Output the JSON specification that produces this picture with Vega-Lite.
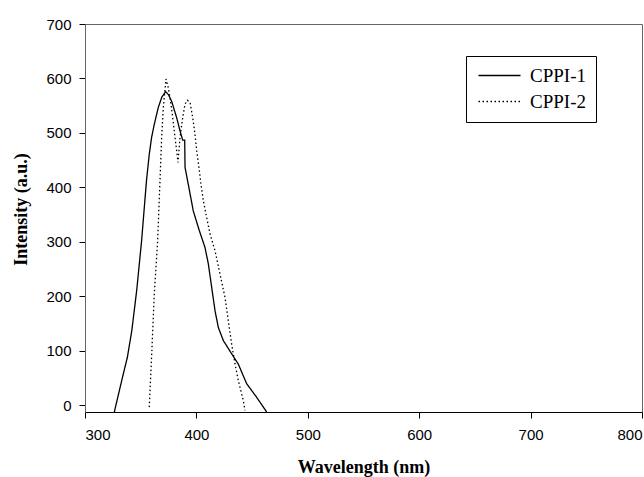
{
  "$schema": "https://vega.github.io/schema/vega-lite/v6.json",
  "width": 557,
  "height": 388,
  "autosize": {"type": "none"},
  "padding": {"left": 85, "top": 24, "right": 2, "bottom": 65},
  "background": "white",
  "config": {"view": {"stroke": "#666", "strokeWidth": 1}, "axis": {"grid": false}},
  "data": {"values": [
    {"s": "CPPI-1", "w": 326.3, "i": -12},
    {"s": "CPPI-1", "w": 333, "i": 46},
    {"s": "CPPI-1", "w": 334.4, "i": 58},
    {"s": "CPPI-1", "w": 338, "i": 88},
    {"s": "CPPI-1", "w": 342, "i": 137},
    {"s": "CPPI-1", "w": 346.4, "i": 211},
    {"s": "CPPI-1", "w": 350.8, "i": 302},
    {"s": "CPPI-1", "w": 355.3, "i": 415},
    {"s": "CPPI-1", "w": 357.7, "i": 461},
    {"s": "CPPI-1", "w": 359.8, "i": 492},
    {"s": "CPPI-1", "w": 362.2, "i": 516},
    {"s": "CPPI-1", "w": 365.8, "i": 547},
    {"s": "CPPI-1", "w": 369, "i": 566},
    {"s": "CPPI-1", "w": 372.4, "i": 576},
    {"s": "CPPI-1", "w": 375, "i": 570},
    {"s": "CPPI-1", "w": 377.8, "i": 558},
    {"s": "CPPI-1", "w": 382.3, "i": 528},
    {"s": "CPPI-1", "w": 385.3, "i": 504},
    {"s": "CPPI-1", "w": 387.7, "i": 487},
    {"s": "CPPI-1", "w": 389.5, "i": 487},
    {"s": "CPPI-1", "w": 389.8, "i": 437},
    {"s": "CPPI-1", "w": 392.7, "i": 406},
    {"s": "CPPI-1", "w": 397.2, "i": 357},
    {"s": "CPPI-1", "w": 402.6, "i": 321},
    {"s": "CPPI-1", "w": 407.7, "i": 290},
    {"s": "CPPI-1", "w": 410.7, "i": 260},
    {"s": "CPPI-1", "w": 413.7, "i": 217},
    {"s": "CPPI-1", "w": 416.7, "i": 174},
    {"s": "CPPI-1", "w": 419.7, "i": 143},
    {"s": "CPPI-1", "w": 424.2, "i": 119},
    {"s": "CPPI-1", "w": 431.6, "i": 95},
    {"s": "CPPI-1", "w": 437.6, "i": 76},
    {"s": "CPPI-1", "w": 445.1, "i": 40},
    {"s": "CPPI-1", "w": 454.1, "i": 15},
    {"s": "CPPI-1", "w": 463.1, "i": -12},
    {"s": "CPPI-2", "w": 357.7, "i": -3},
    {"s": "CPPI-2", "w": 360, "i": 100},
    {"s": "CPPI-2", "w": 362.2, "i": 205},
    {"s": "CPPI-2", "w": 365.2, "i": 302},
    {"s": "CPPI-2", "w": 367.3, "i": 412},
    {"s": "CPPI-2", "w": 368.8, "i": 492},
    {"s": "CPPI-2", "w": 370.3, "i": 547},
    {"s": "CPPI-2", "w": 372.7, "i": 599},
    {"s": "CPPI-2", "w": 374.5, "i": 585},
    {"s": "CPPI-2", "w": 376.3, "i": 565},
    {"s": "CPPI-2", "w": 378.4, "i": 534},
    {"s": "CPPI-2", "w": 380.8, "i": 492},
    {"s": "CPPI-2", "w": 382.3, "i": 467},
    {"s": "CPPI-2", "w": 383.5, "i": 446},
    {"s": "CPPI-2", "w": 385.3, "i": 492},
    {"s": "CPPI-2", "w": 387.7, "i": 528},
    {"s": "CPPI-2", "w": 389.8, "i": 553},
    {"s": "CPPI-2", "w": 391.9, "i": 560},
    {"s": "CPPI-2", "w": 394.3, "i": 556},
    {"s": "CPPI-2", "w": 396.7, "i": 528},
    {"s": "CPPI-2", "w": 398.7, "i": 498},
    {"s": "CPPI-2", "w": 400.3, "i": 467},
    {"s": "CPPI-2", "w": 402.3, "i": 437},
    {"s": "CPPI-2", "w": 404.1, "i": 406},
    {"s": "CPPI-2", "w": 406.2, "i": 376},
    {"s": "CPPI-2", "w": 409.2, "i": 345},
    {"s": "CPPI-2", "w": 412.2, "i": 315},
    {"s": "CPPI-2", "w": 416.7, "i": 284},
    {"s": "CPPI-2", "w": 421.2, "i": 241},
    {"s": "CPPI-2", "w": 425.7, "i": 198},
    {"s": "CPPI-2", "w": 428.6, "i": 156},
    {"s": "CPPI-2", "w": 431.6, "i": 113},
    {"s": "CPPI-2", "w": 434.7, "i": 76},
    {"s": "CPPI-2", "w": 437.6, "i": 46},
    {"s": "CPPI-2", "w": 442.1, "i": 9},
    {"s": "CPPI-2", "w": 443.6, "i": -9}
  ]},
  "mark": {"type": "line", "color": "black", "strokeWidth": 1.3},
  "encoding": {
    "x": {
      "field": "w", "type": "quantitative",
      "scale": {"domain": [300, 800], "nice": false, "zero": false},
      "axis": {
        "values": [300, 400, 500, 600, 700, 800],
        "title": "Wavelength (nm)",
        "labelFont": "Liberation Sans", "labelFontSize": 15, "labelColor": "black",
        "tickColor": "black", "domainColor": "black", "tickSize": 6, "labelPadding": 9,
        "titleFont": "Liberation Serif", "titleFontSize": 18, "titleFontWeight": "bold", "titleColor": "black",
        "titleY": 55, "titleBaseline": "middle"
      }
    },
    "y": {
      "field": "i", "type": "quantitative",
      "scale": {"domain": [-12, 700], "nice": false, "zero": false},
      "axis": {
        "values": [0, 100, 200, 300, 400, 500, 600, 700],
        "title": "Intensity (a.u.)",
        "labelFont": "Liberation Sans", "labelFontSize": 15, "labelColor": "black",
        "tickColor": "black", "domainColor": "#666", "tickSize": 6, "labelPadding": 8,
        "titleFont": "Liberation Serif", "titleFontSize": 18, "titleFontWeight": "bold", "titleColor": "black",
        "titleX": -64, "titleY": 185, "titleBaseline": "middle"
      }
    },
    "strokeDash": {
      "field": "s", "type": "nominal",
      "scale": {"domain": ["CPPI-1", "CPPI-2"], "range": [[1, 0], [1.5, 2.5]]},
      "legend": {
        "orient": "none", "legendX": 381, "legendY": 32, "title": null,
        "symbolType": "M-1,0H5", "symbolSize": 196, "symbolStrokeColor": "black", "symbolStrokeWidth": 1.3,
        "labelFont": "Liberation Serif", "labelFontSize": 19, "labelColor": "black", "labelOffset": 35,
        "strokeColor": "black", "fillColor": "white", "padding": 10, "rowPadding": 6
      }
    }
  }
}
